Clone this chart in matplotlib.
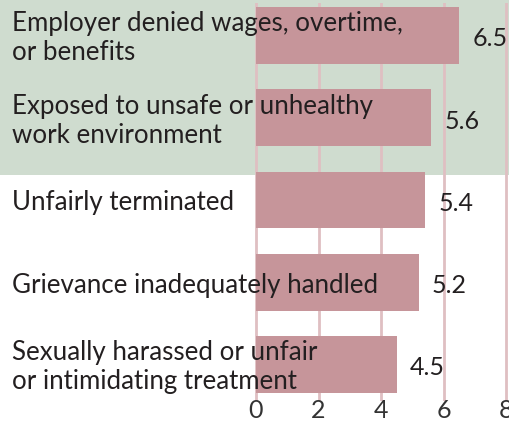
import matplotlib
matplotlib.use("Agg")
import matplotlib.pyplot as plt
from matplotlib.patches import Rectangle

categories = [
    "Employer denied wages, overtime,\nor benefits",
    "Exposed to unsafe or unhealthy\nwork environment",
    "Unfairly terminated",
    "Grievance inadequately handled",
    "Sexually harassed or unfair\nor intimidating treatment",
]
values = [6.5, 5.6, 5.4, 5.2, 4.5]
xticks = [0, 2, 4, 6, 8]

bar_color = "#c6959a"
grid_color = "#dfbfc2"
green = "#cfdccf"
text_color = "#231f20"

plt.rcParams["font.family"] = ["Lato", "DejaVu Sans"]

W, H = 510, 427
fig = plt.figure(figsize=(W / 100, H / 100), dpi=100)

ax = fig.add_axes([0, (H - 402) / H, 1, 398 / H])
ax.patch.set_alpha(0)
ppu = 31.3
ax.set_xlim(-256 / ppu, (W - 256) / ppu)
ax.set_ylim(4.444, -0.395)

# green band behind the first two categories
ax.add_patch(Rectangle((0, -1), 1, 2.696, transform=ax.get_yaxis_transform(),
                       color=green, zorder=0, clip_on=False, lw=0))

for t in xticks:
    ax.axvline(t, color=grid_color, lw=2, zorder=1)

y = list(range(len(values)))
ax.barh(y, values, height=0.69, color=bar_color, zorder=2)

for yi, v in zip(y, values):
    ax.text(v + 0.42, yi + 0.03, f"{v}", va="center", ha="left",
            fontsize=18, color=text_color, zorder=4)

for yi, c in zip(y, categories):
    ax.text(12 / W, 1 - (38.5 + yi * 82.25 - 4) / 398, c,
            transform=ax.transAxes, va="center", ha="left",
            fontsize=18.6, color=text_color, linespacing=1.2, zorder=5)

ax.set_yticks([])
ax.set_xticks(xticks)
ax.set_xticklabels([str(t) for t in xticks], fontsize=18, color="#333333")
ax.tick_params(axis="x", length=0, pad=-2)
for s in ax.spines.values():
    s.set_visible(False)

fig.savefig("out.png", dpi=100)
